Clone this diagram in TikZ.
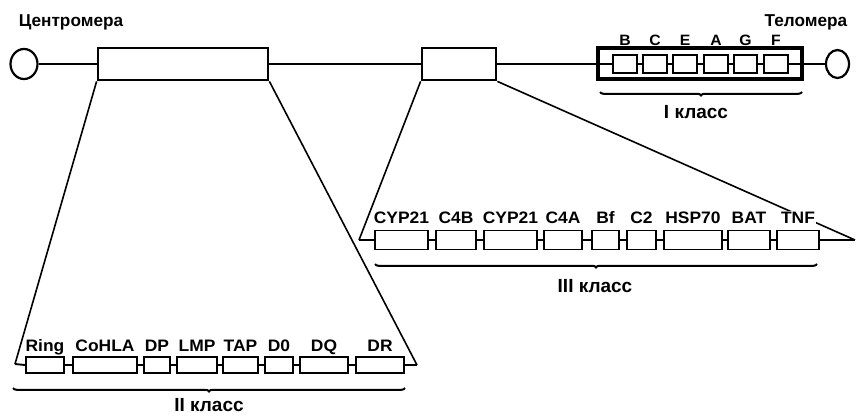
\documentclass[tikz,border=0pt]{standalone}
\usepackage{fontspec}
\setmainfont{Liberation Sans}
\newfontfamily\lab[FakeStretch=1.05]{Liberation Sans}
\newfontfamily\labn{Liberation Sans}
\usetikzlibrary{shapes.geometric,decorations.pathreplacing}
\tikzset{
  chrom/.style={line width=2.2pt},
  bigrect/.style={draw, line width=2.8pt, inner sep=0pt, minimum height=32pt},
  gbox/.style={draw, line width=1.9pt, inner sep=0pt},
  telo/.style={draw, ellipse, line width=2.2pt, inner sep=0pt},
  fan/.style={line width=1.6pt},
  rowline/.style={line width=1.9pt},
  brk/.style={line width=2pt, decorate, decoration={brace, mirror, amplitude=3.5pt}},
  glab/.style={anchor=base, inner sep=0pt, font=\lab\bfseries\fontsize{16.6}{18}\selectfont},
  slab/.style={anchor=base, inner sep=0pt, font=\lab\bfseries\fontsize{15}{16}\selectfont},
  clab/.style={anchor=base, inner sep=0pt, font=\labn\bfseries\fontsize{19}{22}\selectfont},
  tlab/.style={anchor=base, inner sep=0pt, font=\labn\bfseries\fontsize{17.2}{21}\selectfont},
}
\begin{document}
\begin{tikzpicture}[x=1pt,y=-1pt]
\useasboundingbox (0,0) rectangle (856,418);
% chromosome
\node[telo, minimum width=27pt, minimum height=30pt] (lc) at (24,64) {};
\node[telo, minimum width=23pt, minimum height=28pt] (rc) at (837.5,64) {};
\node[bigrect, minimum width=170pt] (big) at (183,64) {};
\node[bigrect, minimum width=74pt] (small) at (459,64) {};
\node[bigrect, line width=3.2pt, minimum width=204pt, minimum height=31pt] (one) at (700,63.5) {};
\node[tlab] (cen) at (71,26.5) {Центромера};
\node[tlab] (tel) at (806,26.5) {Теломера};
% class I boxes
\foreach \a/\b/\t [count=\i] in {613/637/B,643/667/C,673/697/E,704/728/A,734/757/G,764/788/F}{
  \node[gbox, minimum width={\b-\a}, minimum height=18pt] (I\i) at ({(\a+\b)/2},64) {};
  \node[slab] (IL\i) at ({(\a+\b)/2},45.5) {\t};
}
\draw[chrom] (lc.east) -- (big.west);
\draw[chrom] (big.east) -- (small.west);
\draw[chrom] (small.east) -- (one.west |- I1.west);
\draw[chrom] (one.west |- I1.west) -- (I1.west);
\foreach \i [evaluate=\i as \j using int(\i+1)] in {1,...,5}{
  \draw[chrom] (I\i.east) -- (I\j.west);
}
\draw[chrom] (I6.east) -- (one.east |- I6.east);
\draw[chrom] (one.east |- I6.east) -- (rc.west);
\coordinate (b1a) at (600,92);
\coordinate (b1b) at (802,92);
\draw[brk] (b1a) -- (b1b);
\node[clab] (c1) at (696,118) {I класс};
% class III
\coordinate (IIIL) at (359,240);
\coordinate (IIIR) at (855,240);
\draw[fan] (small.south west) -- (IIIL);
\foreach \a/\b/\t [count=\i] in {375/428/CYP21,436/476/C4B,484/537/CYP21,544/582/C4A,592/619/Bf,627/656/C2,664/722/HSP70,728/770/BAT,777/819/TNF}{
  \node[gbox, minimum width={\b-\a}, minimum height=19pt] (T\i) at ({(\a+\b)/2},240) {};
  \node[glab] (TL\i) at ({(\a+\b)/2},223) {\t};
}
\draw[fan] (small.south east) -- (IIIR);
\node[glab, fill=white, inner sep=1pt] at (TL9.base) {TNF};
\draw[rowline] (IIIL) -- (T1.west);
\foreach \i [evaluate=\i as \j using int(\i+1)] in {1,...,8}{
  \draw[rowline] (T\i.east) -- (T\j.west);
}
\draw[rowline] (T9.east) -- (IIIR);
\coordinate (b3a) at (375,264);
\coordinate (b3b) at (817,264);
\draw[brk] (b3a) -- (b3b);
\node[clab] (c3) at (595,292) {III класс};
% class II
\coordinate (IIL) at (15,364);
\coordinate (IIR) at (417,365);
\draw[fan] (big.south west) -- (IIL);
\draw[fan] (big.south east) -- (IIR);
\foreach \a/\b/\t [count=\i] in {26/64/Ring,73/137/CoHLA,144/170/DP,177/217/LMP,223/258/TAP,265/293/D0,300/348/DQ,356/404/DR}{
  \node[gbox, minimum width={\b-\a}, minimum height=16pt] (S\i) at ({(\a+\b)/2},365) {};
  \node[glab] (SL\i) at ({(\a+\b)/2},351) {\t};
}
\draw[rowline] (IIL) -- (S1.west);
\foreach \i [evaluate=\i as \j using int(\i+1)] in {1,...,7}{
  \draw[rowline] (S\i.east) -- (S\j.west);
}
\draw[rowline] (S8.east) -- (IIR);
\coordinate (b2a) at (13,388);
\coordinate (b2b) at (405,388);
\draw[brk] (b2a) -- (b2b);
\node[clab] (c2) at (209,411) {II класс};
\end{tikzpicture}
\end{document}
